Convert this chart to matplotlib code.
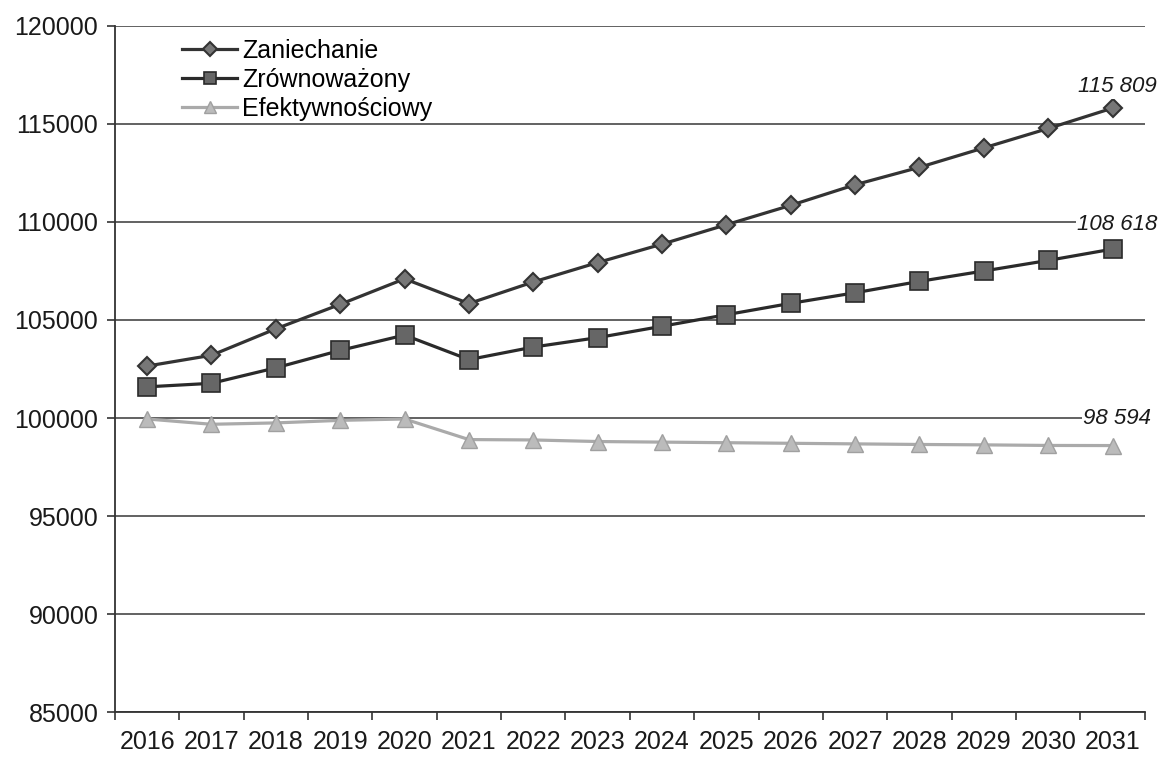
import matplotlib
matplotlib.use("Agg")
import matplotlib.pyplot as plt
import numpy as np

plt.rcParams['font.family'] = ['Liberation Sans', 'DejaVu Sans']

years = [str(y) for y in range(2016, 2032)]

zaniechanie = [102650, 103200, 104550, 105800, 107100, 105840, 106940, 107930,
               108870, 109860, 110850, 111900, 112790, 113780, 114770, 115809]
zrownowazony = [101590, 101770, 102560, 103450, 104230, 102980, 103620, 104100,
                104680, 105270, 105850, 106390, 106970, 107500, 108040, 108618]
efektywnosciowy = [99950, 99680, 99750, 99880, 99950, 98900, 98880, 98800,
                   98770, 98740, 98710, 98680, 98650, 98630, 98600, 98594]

end_labels = ["115 809", "108 618", "98 594"]

yticks = [85000, 90000, 95000, 100000, 105000, 110000, 115000, 120000]

fig = plt.figure(figsize=(11.61, 7.57), dpi=100)
ax = fig.add_axes([0.099, 0.0594, 0.887, 0.9063])

x = np.arange(len(years))

ax.plot(x, zaniechanie, color='#333333', lw=2.3, marker='D', ms=9.5,
        mfc='#777777', mec='#333333', mew=1.5, label='Zaniechanie', zorder=4)
ax.plot(x, zrownowazony, color='#2a2a2a', lw=2.3, marker='s', ms=13,
        mfc='#666666', mec='#2a2a2a', mew=1.2, label='Zrównoważony', zorder=4)
ax.plot(x, efektywnosciowy, color='#aaaaaa', lw=2.3, marker='^', ms=12,
        mfc='#bbbbbb', mec='#a0a0a0', mew=1.0, label='Efektywnościowy', zorder=3)

ax.set_xlim(-0.5, len(years) - 0.5)
ax.set_ylim(85000, 120000)
ax.set_yticks(yticks)
ax.set_yticklabels([str(v) for v in yticks], fontsize=18, color='#1a1a1a')
ax.yaxis.grid(True, color='#555555', lw=1.3)
ax.set_axisbelow(True)

ax.set_xticks(x)
ax.set_xticklabels(years, fontsize=18, color='#1a1a1a')
ax.set_xticks(np.arange(len(years) + 1) - 0.5, minor=True)
ax.tick_params(axis='x', which='major', length=0, pad=13)
ax.tick_params(axis='x', which='minor', length=6, width=1.2, color='#333333')
ax.tick_params(axis='y', length=6, width=1.2, color='#333333', pad=6)

for side in ['top', 'right']:
    ax.spines[side].set_visible(False)
for side in ['left', 'bottom']:
    ax.spines[side].set_color('#333333')
    ax.spines[side].set_linewidth(1.3)

# value labels at the end of each series
last = len(years) - 1
label_y = [116900, 109850, 99950]
for text, yv in zip(end_labels, label_y):
    ax.text(last + 0.07, yv, text, style='italic', fontsize=16,
            ha='center', va='center', color='#1a1a1a', zorder=5,
            bbox=dict(facecolor='white', edgecolor='none', pad=1))

leg = ax.legend(loc='upper left', bbox_to_anchor=(0.051, 1.003), frameon=False,
                fontsize=18, handlelength=2.2, handletextpad=0.2,
                labelspacing=0.2, borderaxespad=0.2)
for h in leg.legend_handles:
    h.set_markersize(h.get_markersize() * 0.7)

fig.savefig('out.png', dpi=100, facecolor='white')
